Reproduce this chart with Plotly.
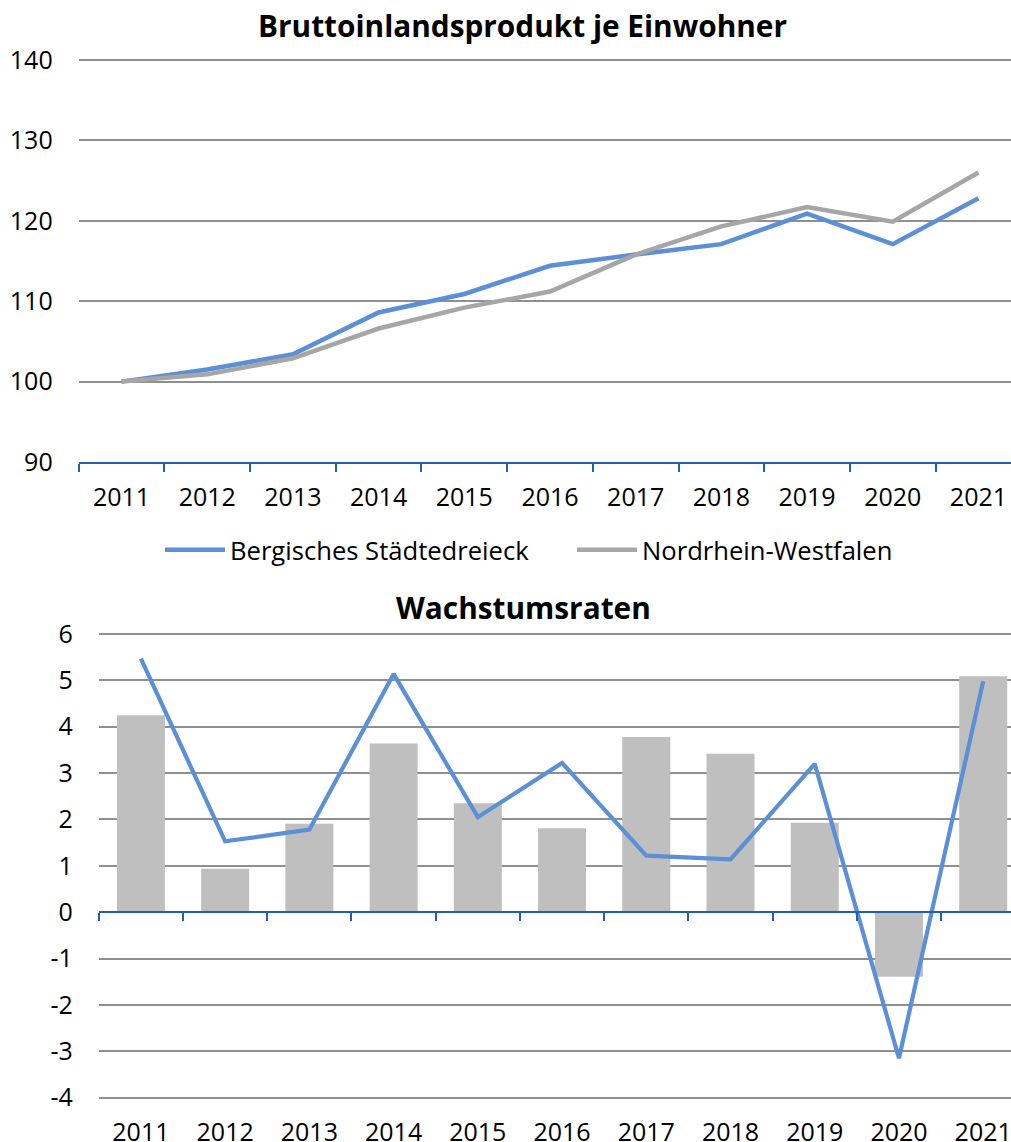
import plotly.graph_objects as go

years = ["2011", "2012", "2013", "2014", "2015", "2016", "2017", "2018", "2019", "2020", "2021"]
bip_bergisch = [100, 101.5, 103.4, 108.6, 110.9, 114.4, 115.8, 117.1, 120.9, 117.1, 122.8]
bip_nrw = [100, 100.9, 102.9, 106.6, 109.2, 111.2, 115.8, 119.3, 121.7, 119.9, 126.0]
wachstum_nrw = [4.25, 0.94, 1.91, 3.64, 2.35, 1.81, 3.78, 3.42, 1.93, -1.39, 5.09]
wachstum_bergisch = [5.47, 1.53, 1.78, 5.14, 2.05, 3.22, 1.22, 1.14, 3.20, -3.15, 4.98]
growth_ticks = [-4, -3, -2, -1, 0, 1, 2, 3, 4, 5, 6]
growth_ticktext = ["-4", "-3", "-2", "-1", "0", "1", "2", "3", "4", "5", "6"]

W, H = 1011, 1142


def px(xp):
    return xp / W


def py(yp):
    return (H - yp) / H


BLUE = "#5b8fd6"
GRAY_LINE = "#a6a6a6"
BAR = "#bfbfbf"
AXIS = "#2160b0"
GRID = "#8f8f8f"
FONT = "Open Sans"

# top: 140 at y=60, 90 at y=462 (8.04 px/unit); extended slightly so the 140 gridline shows
top_range = [90, 140.15]
top_dom = [py(462), py(60 - 0.15 * 8.04)]
# bottom: 6 at y=634, -4 at y=1097.7 (46.37 px/unit)
y2_range = [-4.03, 6.03]
bot_dom = [py(1097.7 + 0.03 * 46.37), py(634 - 0.03 * 46.37)]
zero_pos = bot_dom[0] + (bot_dom[1] - bot_dom[0]) * (0 - y2_range[0]) / (y2_range[1] - y2_range[0])

fig = go.Figure()
fig.add_trace(go.Scatter(x=years, y=bip_bergisch, mode="lines", name="Bergisches Städtedreieck",
                         line=dict(color=BLUE, width=4.5), xaxis="x", yaxis="y"))
fig.add_trace(go.Scatter(x=years, y=bip_nrw, mode="lines", name="Nordrhein-Westfalen",
                         line=dict(color=GRAY_LINE, width=4.5), xaxis="x", yaxis="y"))
fig.add_trace(go.Bar(x=years, y=wachstum_nrw, marker=dict(color=BAR, line=dict(width=0)),
                     width=0.57, showlegend=False, xaxis="x2", yaxis="y2"))
fig.add_trace(go.Scatter(x=years, y=wachstum_bergisch, mode="lines", line=dict(color=BLUE, width=4.2),
                         showlegend=False, xaxis="x3", yaxis="y2"))

tickfont = dict(family=FONT, size=25, color="#000000")

fig.update_layout(
    width=W, height=H,
    margin=dict(l=0, r=0, t=0, b=0),
    plot_bgcolor="white", paper_bgcolor="white",
    font=dict(family=FONT, size=25, color="#000000"),
    showlegend=True,
    legend=dict(orientation="h", x=px(160), xanchor="left", y=py(550), yanchor="middle",
                font=dict(family=FONT, size=25.6), itemwidth=60, entrywidth=337,
                bgcolor="rgba(0,0,0,0)"),
    xaxis=dict(domain=[px(78.7), 1], anchor="y", type="category", range=[-0.5, 10.38],
               showline=True, linecolor=AXIS, linewidth=2, ticks="outside", tickson="boundaries",
               ticklen=8, tickcolor=AXIS, tickwidth=1.5, showgrid=False, tickfont=tickfont,
               ticklabelstandoff=12, automargin=False, fixedrange=True),
    yaxis=dict(domain=top_dom, anchor="x", range=top_range, tickvals=[90, 100, 110, 120, 130, 140],
               showgrid=True, gridcolor=GRID, gridwidth=1.5, zeroline=False, showline=False,
               ticks="", tickfont=tickfont, ticklabelstandoff=25, automargin=False),
    xaxis2=dict(domain=[px(98.8), 1], anchor="y2", type="category", range=[-0.5, 10.33],
                showline=False, ticks="", showgrid=False, tickfont=tickfont,
                ticklabelstandoff=16, automargin=False),
    xaxis3=dict(domain=[px(98.8), 1], anchor="free", position=zero_pos, overlaying="x2",
                matches="x2", type="category", range=[-0.5, 10.33],
                showline=True, linecolor=AXIS, linewidth=2, ticks="outside", tickson="boundaries",
                ticklen=8, tickcolor=AXIS, tickwidth=1.5, showticklabels=False, showgrid=False,
                automargin=False),
    yaxis2=dict(domain=bot_dom, anchor="x2", range=y2_range, tickmode="array",
                tickvals=growth_ticks, ticktext=growth_ticktext, showgrid=True,
                gridcolor=GRID, gridwidth=1.5, zeroline=False, showline=False, ticks="",
                tickfont=tickfont, ticklabelstandoff=25, automargin=False),
    bargap=0.43,
    annotations=[
        dict(text="<b>Bruttoinlandsprodukt je Einwohner</b>", x=px(522.5), y=py(25),
             xref="paper", yref="paper", showarrow=False, xanchor="center", yanchor="middle",
             font=dict(family=FONT, size=29.8, color="#000000")),
        dict(text="<b>Wachstumsraten</b>", x=px(523.5), y=py(607),
             xref="paper", yref="paper", showarrow=False, xanchor="center", yanchor="middle",
             font=dict(family=FONT, size=29.8, color="#000000")),
    ],
)

fig.write_html(
    "out.html",
    config={"displayModeBar": False},
    post_script="document.body.style.margin='0';document.body.style.overflow='hidden';",
)
